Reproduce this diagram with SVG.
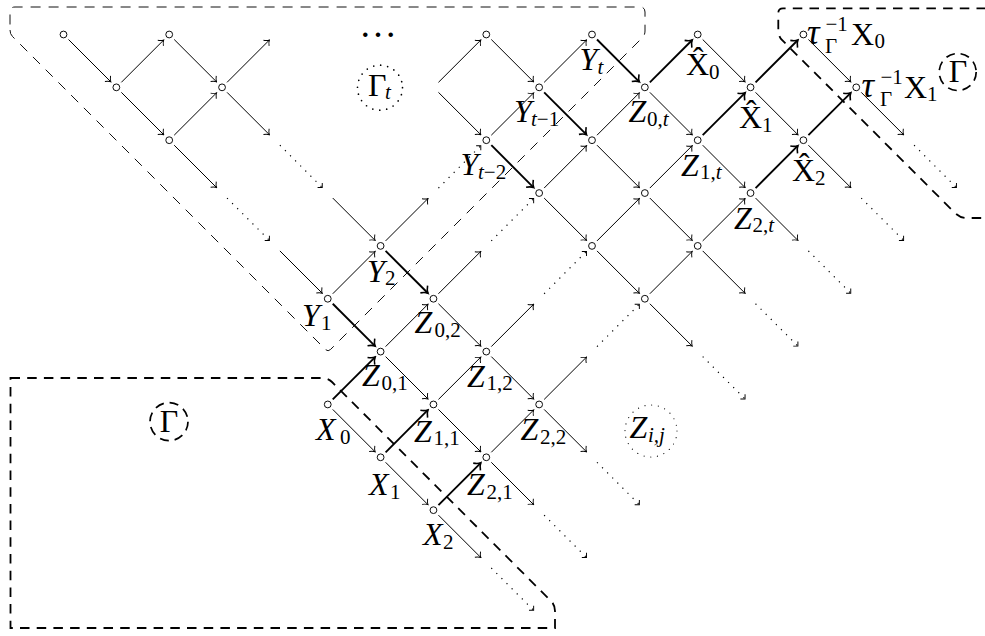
<svg xmlns="http://www.w3.org/2000/svg" width="985" height="636" viewBox="0 0 985 636">
<defs>
<style>
.a{stroke:#000;stroke-width:1;fill:none;marker-end:url(#ah)}
.k{stroke:#000;stroke-width:1.9;fill:none;marker-end:url(#ak)}
.d{stroke:#000;stroke-width:1.2;fill:none;stroke-dasharray:1.2 6;marker-end:url(#ad)}
.nd{fill:#fff;stroke:#000;stroke-width:0.95}
.rg1{fill:none;stroke:#111;stroke-width:1;stroke-dasharray:10 8}
.rg2{fill:none;stroke:#000;stroke-width:1.8;stroke-dasharray:9.5 7.2}
.cd{fill:none;stroke:#000;stroke-width:1.7;stroke-dasharray:9 5.93}
.cp{fill:none;stroke:#000;stroke-width:1.7;stroke-linecap:round;stroke-dasharray:0 7.07}
.cq{fill:none;stroke:#000;stroke-width:1.2;stroke-linecap:round;stroke-dasharray:0 6.8}
text{font-family:"Liberation Serif","DejaVu Serif",serif;font-size:32px;fill:#000}
.i{font-style:italic}
.s{font-size:21px}
</style>
<marker id="ah" viewBox="-7 -6 8 12" refX="0" refY="0" markerWidth="8" markerHeight="12" markerUnits="userSpaceOnUse" orient="auto"><path d="M-4.4,-4 C-2.9,-1.9 -1.2,-0.5 0,0 C-1.2,0.5 -2.9,1.9 -4.4,4" fill="none" stroke="#000" stroke-width="0.95"/></marker>
<marker id="ak" viewBox="-8 -7 10 14" refX="0" refY="0" markerWidth="10" markerHeight="14" markerUnits="userSpaceOnUse" orient="auto"><path d="M-5.6,-5.1 C-3.7,-2.4 -1.5,-0.6 0,0 C-1.5,0.6 -3.7,2.4 -5.6,5.1" fill="none" stroke="#000" stroke-width="1.6"/></marker>
<marker id="ad" viewBox="-6 -5 7 10" refX="0" refY="0" markerWidth="7" markerHeight="10" markerUnits="userSpaceOnUse" orient="auto"><path d="M-3.3,-3.3 L0,0 L-3.3,3.3" fill="none" stroke="#000" stroke-width="0.95"/></marker>
</defs>
<rect width="985" height="636" fill="#fff"/>

<g id="regions">
<path class="rg1" d="M10,30 Q10,34 12.5,36.5 L325.5,349.5 Q328,352 330.5,349.5 L642.5,37.5 Q645,35 645,31 L645,12 Q645,7 640,7 L15,7 Q10,7 10,12 Z"/>
<path class="rg2" d="M10.5,378 L322,378 Q328,378 332,382 L551,601 Q555,605 555,611 L555,628 L10.5,628 Z"/>
<path class="rg2" d="M986,8.3 L783,8.3 Q778.3,8.3 778.3,13 L778.3,31 Q778.3,35 781,39 L954,212 Q960,218 966,218 L986,218"/>
</g>

<g id="connectors">
<line class="a" x1="68.5" y1="39.5" x2="110.85" y2="81.85"/>
<line class="a" x1="121.35" y1="92.35" x2="163.7" y2="134.7"/>
<line class="a" x1="174.2" y1="39.5" x2="216.55" y2="81.85"/>
<line class="a" x1="227.05" y1="92.35" x2="269.4" y2="134.7"/>
<line class="a" x1="174.2" y1="145.2" x2="216.55" y2="187.55"/>
<line class="a" x1="279.9" y1="250.9" x2="322.25" y2="293.25"/>
<line class="a" x1="332.75" y1="198.05" x2="375.1" y2="240.4"/>
<line class="a" x1="438.45" y1="92.35" x2="480.8" y2="134.7"/>
<line class="a" x1="491.3" y1="39.5" x2="533.65" y2="81.85"/>
<line class="a" x1="544.15" y1="198.05" x2="586.5" y2="240.4"/>
<line class="a" x1="597" y1="145.2" x2="639.35" y2="187.55"/>
<line class="a" x1="649.85" y1="92.35" x2="692.2" y2="134.7"/>
<line class="a" x1="702.7" y1="39.5" x2="745.05" y2="81.85"/>
<line class="a" x1="597" y1="250.9" x2="639.35" y2="293.25"/>
<line class="a" x1="649.85" y1="198.05" x2="692.2" y2="240.4"/>
<line class="a" x1="702.7" y1="145.2" x2="745.05" y2="187.55"/>
<line class="a" x1="755.55" y1="92.35" x2="797.9" y2="134.7"/>
<line class="a" x1="808.4" y1="39.5" x2="850.75" y2="81.85"/>
<line class="a" x1="649.85" y1="303.75" x2="692.2" y2="346.1"/>
<line class="a" x1="702.7" y1="250.9" x2="745.05" y2="293.25"/>
<line class="a" x1="755.55" y1="198.05" x2="797.9" y2="240.4"/>
<line class="a" x1="808.4" y1="145.2" x2="850.75" y2="187.55"/>
<line class="a" x1="861.25" y1="92.35" x2="903.6" y2="134.7"/>
<line class="a" x1="385.6" y1="356.6" x2="427.95" y2="398.95"/>
<line class="a" x1="438.45" y1="303.75" x2="480.8" y2="346.1"/>
<line class="a" x1="332.75" y1="409.45" x2="375.1" y2="451.8"/>
<line class="a" x1="385.6" y1="462.3" x2="427.95" y2="504.65"/>
<line class="a" x1="438.45" y1="409.45" x2="480.8" y2="451.8"/>
<line class="a" x1="491.3" y1="356.6" x2="533.65" y2="398.95"/>
<line class="a" x1="438.45" y1="515.15" x2="480.8" y2="557.5"/>
<line class="a" x1="491.3" y1="462.3" x2="533.65" y2="504.65"/>
<line class="a" x1="544.15" y1="409.45" x2="586.5" y2="451.8"/>

<line class="a" x1="121.35" y1="82.35" x2="163.7" y2="40"/>
<line class="a" x1="174.2" y1="135.2" x2="216.55" y2="92.85"/>
<line class="a" x1="227.05" y1="82.35" x2="269.4" y2="40"/>
<line class="a" x1="332.75" y1="293.75" x2="375.1" y2="251.4"/>
<line class="a" x1="385.6" y1="240.9" x2="427.95" y2="198.55"/>
<line class="a" x1="438.45" y1="82.35" x2="480.8" y2="40"/>
<line class="a" x1="491.3" y1="135.2" x2="533.65" y2="92.85"/>
<line class="a" x1="544.15" y1="82.35" x2="586.5" y2="40"/>
<line class="a" x1="544.15" y1="188.05" x2="586.5" y2="145.7"/>
<line class="a" x1="597" y1="135.2" x2="639.35" y2="92.85"/>
<line class="a" x1="597" y1="240.9" x2="639.35" y2="198.55"/>
<line class="a" x1="649.85" y1="188.05" x2="692.2" y2="145.7"/>
<line class="a" x1="649.85" y1="293.75" x2="692.2" y2="251.4"/>
<line class="a" x1="702.7" y1="240.9" x2="745.05" y2="198.55"/>
<line class="a" x1="385.6" y1="346.6" x2="427.95" y2="304.25"/>
<line class="a" x1="438.45" y1="293.75" x2="480.8" y2="251.4"/>
<line class="a" x1="438.45" y1="399.45" x2="480.8" y2="357.1"/>
<line class="a" x1="491.3" y1="346.6" x2="533.65" y2="304.25"/>
<line class="a" x1="491.3" y1="452.3" x2="533.65" y2="409.95"/>
<line class="a" x1="544.15" y1="399.45" x2="586.5" y2="357.1"/>

<line class="k" x1="332.75" y1="303.75" x2="375.1" y2="346.1"/>
<line class="k" x1="385.6" y1="250.9" x2="427.95" y2="293.25"/>
<line class="k" x1="491.3" y1="145.2" x2="533.65" y2="187.55"/>
<line class="k" x1="544.15" y1="92.35" x2="586.5" y2="134.7"/>
<line class="k" x1="597" y1="39.5" x2="639.35" y2="81.85"/>
<line class="k" x1="332.75" y1="399.45" x2="375.1" y2="357.1"/>
<line class="k" x1="385.6" y1="452.3" x2="427.95" y2="409.95"/>
<line class="k" x1="438.45" y1="505.15" x2="480.8" y2="462.8"/>
<line class="k" x1="649.85" y1="82.35" x2="692.2" y2="40"/>
<line class="k" x1="702.7" y1="135.2" x2="745.05" y2="92.85"/>
<line class="k" x1="755.55" y1="82.35" x2="797.9" y2="40"/>
<line class="k" x1="755.55" y1="188.05" x2="797.9" y2="145.7"/>
<line class="k" x1="808.4" y1="135.2" x2="850.75" y2="92.85"/>

<line class="d" x1="279.9" y1="145.2" x2="322.25" y2="187.55"/>
<line class="d" x1="227.05" y1="198.05" x2="269.4" y2="240.4"/>
<line class="d" x1="702.7" y1="356.6" x2="745.05" y2="398.95"/>
<line class="d" x1="755.55" y1="303.75" x2="797.9" y2="346.1"/>
<line class="d" x1="808.4" y1="250.9" x2="850.75" y2="293.25"/>
<line class="d" x1="861.25" y1="198.05" x2="903.6" y2="240.4"/>
<line class="d" x1="914.1" y1="145.2" x2="956.45" y2="187.55"/>
<line class="d" x1="597" y1="462.3" x2="639.35" y2="504.65"/>
<line class="d" x1="544.15" y1="515.15" x2="586.5" y2="557.5"/>
<line class="d" x1="491.3" y1="568" x2="533.65" y2="610.35"/>
<line class="d" x1="438.45" y1="188.05" x2="480.8" y2="145.7"/>
<line class="d" x1="491.3" y1="240.9" x2="533.65" y2="198.55"/>
<line class="d" x1="544.15" y1="293.75" x2="586.5" y2="251.4"/>
<line class="d" x1="597" y1="346.6" x2="639.35" y2="304.25"/>
</g>

<g id="n-0-0"><circle class="nd" cx="63.5" cy="34.5" r="3.4"/></g>
<g id="n-1-1"><circle class="nd" cx="116.35" cy="87.35" r="3.4"/></g>
<g id="n-2-0"><circle class="nd" cx="169.2" cy="34.5" r="3.4"/></g>
<g id="n-2-2"><circle class="nd" cx="169.2" cy="140.2" r="3.4"/></g>
<g id="n-3-1"><circle class="nd" cx="222.05" cy="87.35" r="3.4"/></g>
<g id="n-8-0"><circle class="nd" cx="486.3" cy="34.5" r="3.4"/></g>

<g id="Y1"><circle class="nd" cx="327.75" cy="298.75" r="3.4"/><text><tspan class="i" x="302" y="326">Y</tspan><tspan class="s" x="321" y="330">1</tspan></text></g>
<g id="Y2"><circle class="nd" cx="380.6" cy="245.9" r="3.4"/><text><tspan class="i" x="367" y="281.5">Y</tspan><tspan class="s" x="385" y="285">2</tspan></text></g>
<g id="X0"><circle class="nd" cx="327.75" cy="404.45" r="3.4"/><text><tspan class="i" x="316" y="440">X</tspan><tspan class="s" x="340" y="443.5">0</tspan></text></g>
<g id="X1"><circle class="nd" cx="380.6" cy="457.3" r="3.4"/><text><tspan class="i" x="369" y="495">X</tspan><tspan class="s" x="390" y="498.5">1</tspan></text></g>
<g id="X2"><circle class="nd" cx="433.45" cy="510.15" r="3.4"/><text><tspan class="i" x="423" y="545">X</tspan><tspan class="s" x="443" y="548.5">2</tspan></text></g>
<g id="Z01"><circle class="nd" cx="380.6" cy="351.6" r="3.4"/><text><tspan class="i" x="362" y="386">Z</tspan><tspan class="s" x="381.5" y="389.5">0,1</tspan></text></g>
<g id="Z02"><circle class="nd" cx="433.45" cy="298.75" r="3.4"/><text><tspan class="i" x="414.5" y="333">Z</tspan><tspan class="s" x="434.5" y="336.5">0,2</tspan></text></g>
<g id="Z11"><circle class="nd" cx="433.45" cy="404.45" r="3.4"/><text><tspan class="i" x="414" y="441.5">Z</tspan><tspan class="s" x="433.5" y="445">1,1</tspan></text></g>
<g id="Z12"><circle class="nd" cx="486.3" cy="351.6" r="3.4"/><text><tspan class="i" x="467" y="386.5">Z</tspan><tspan class="s" x="486.5" y="390">1,2</tspan></text></g>
<g id="Z21"><circle class="nd" cx="486.3" cy="457.3" r="3.4"/><text><tspan class="i" x="467" y="495">Z</tspan><tspan class="s" x="486.5" y="498.5">2,1</tspan></text></g>
<g id="Z22"><circle class="nd" cx="539.15" cy="404.45" r="3.4"/><text><tspan class="i" x="520.5" y="440">Z</tspan><tspan class="s" x="540" y="443.5">2,2</tspan></text></g>

<g id="Yt2"><circle class="nd" cx="486.3" cy="140.2" r="3.4"/><text><tspan class="i" x="460.5" y="175">Y</tspan><tspan class="s" x="478" y="178.5"><tspan class="i">t</tspan>−2</tspan></text></g>
<g id="Yt1"><circle class="nd" cx="539.15" cy="87.35" r="3.4"/><text><tspan class="i" x="514" y="122">Y</tspan><tspan class="s" x="531" y="125.5"><tspan class="i">t</tspan>−1</tspan></text></g>
<g id="Yt"><circle class="nd" cx="592" cy="34.5" r="3.4"/><text><tspan class="i" x="579.5" y="70">Y</tspan><tspan class="s i" x="597.5" y="73.5">t</tspan></text></g>
<g id="Z0t"><circle class="nd" cx="644.85" cy="87.35" r="3.4"/><text><tspan class="i" x="628.5" y="122">Z</tspan><tspan class="s" x="647" y="125.5">0,<tspan class="i">t</tspan></tspan></text></g>
<g id="Z1t"><circle class="nd" cx="697.7" cy="140.2" r="3.4"/><text><tspan class="i" x="681" y="175.5">Z</tspan><tspan class="s" x="700" y="179">1,<tspan class="i">t</tspan></tspan></text></g>
<g id="Z2t"><circle class="nd" cx="750.55" cy="193.05" r="3.4"/><text><tspan class="i" x="734" y="228.5">Z</tspan><tspan class="s" x="752.5" y="232">2,<tspan class="i">t</tspan></tspan></text></g>
<g id="n-9-3"><circle class="nd" cx="539.15" cy="193.05" r="3.4"/></g>
<g id="n-10-2"><circle class="nd" cx="592" cy="140.2" r="3.4"/></g>
<g id="n-10-4"><circle class="nd" cx="592" cy="245.9" r="3.4"/></g>
<g id="n-11-3"><circle class="nd" cx="644.85" cy="193.05" r="3.4"/></g>
<g id="n-11-5"><circle class="nd" cx="644.85" cy="298.75" r="3.4"/></g>
<g id="n-12-4"><circle class="nd" cx="697.7" cy="245.9" r="3.4"/></g>
<g id="Xh0"><circle class="nd" cx="697.7" cy="34.5" r="3.4"/><text><tspan x="686" y="75">X̂</tspan><tspan class="s" x="709" y="78.5">0</tspan></text></g>
<g id="Xh1"><circle class="nd" cx="750.55" cy="87.35" r="3.4"/><text><tspan x="739" y="128">X̂</tspan><tspan class="s" x="762" y="131.5">1</tspan></text></g>
<g id="Xh2"><circle class="nd" cx="803.4" cy="140.2" r="3.4"/><text><tspan x="792" y="181">X̂</tspan><tspan class="s" x="815" y="184.5">2</tspan></text></g>
<g id="tX0"><circle class="nd" cx="803.4" cy="34.5" r="3.4"/><text><tspan class="i" x="807" y="43.5" style="font-size:35px">τ</tspan><tspan class="s" x="825.5" y="31">−1</tspan><tspan class="s" x="825" y="52.5">Γ</tspan><tspan x="851" y="44.5">X</tspan><tspan class="s" x="874.5" y="48">0</tspan></text></g>
<g id="tX1"><circle class="nd" cx="856.25" cy="87.35" r="3.4"/><text><tspan class="i" x="861.5" y="97" style="font-size:35px">τ</tspan><tspan class="s" x="880.5" y="84">−1</tspan><tspan class="s" x="880" y="105.5">Γ</tspan><tspan x="904" y="97.5">X</tspan><tspan class="s" x="927" y="101">1</tspan></text></g>

<g id="annotations">
<text x="378" y="37" style="font-size:38px" text-anchor="middle">…</text>
<circle class="cp" cx="380" cy="87.7" r="22.5"/>
<text><tspan x="368" y="95.5">Γ</tspan><tspan class="s i" x="385" y="98.5">t</tspan></text>
<circle class="cd" cx="169" cy="421.7" r="19"/>
<text x="169" y="432" text-anchor="middle">Γ</text>
<circle class="cd" cx="957.7" cy="72" r="18.5"/>
<text x="958" y="82" text-anchor="middle">Γ</text>
<circle class="cq" cx="651" cy="431" r="26"/>
<text><tspan class="i" x="629.5" y="438">Z</tspan><tspan class="s i" x="648" y="441.5">i,j</tspan></text>
</g>
</svg>
